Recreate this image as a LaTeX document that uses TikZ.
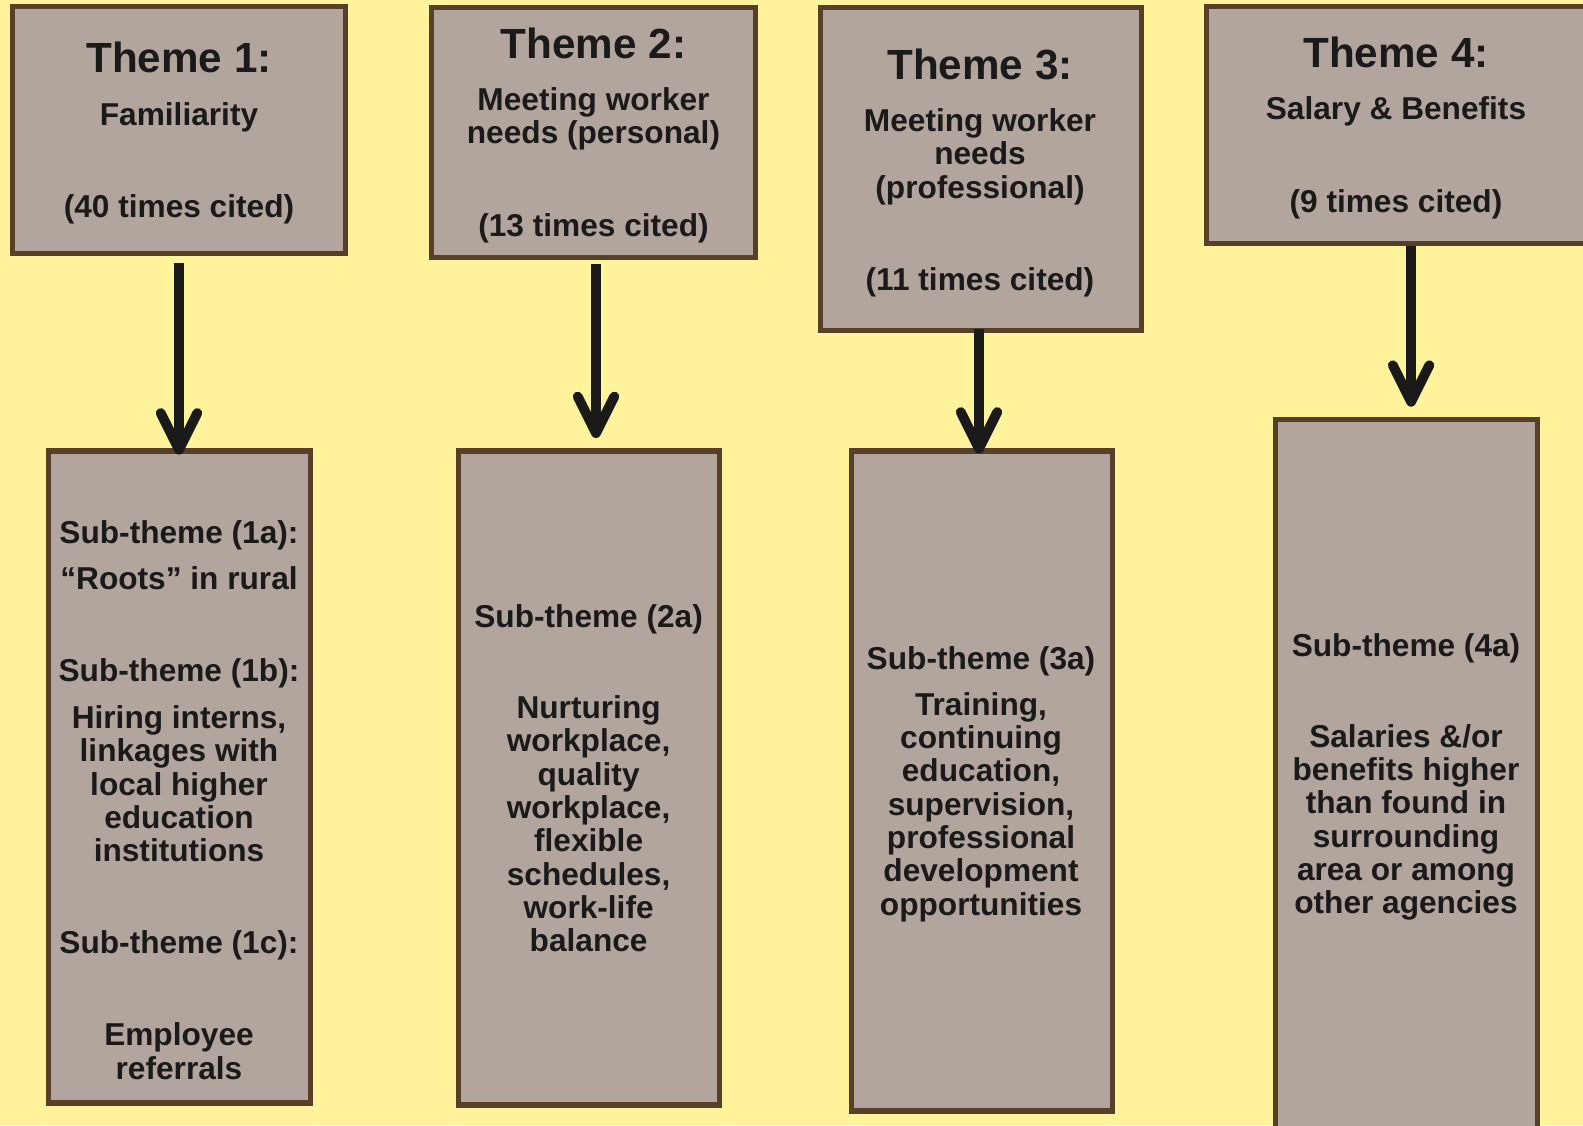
\documentclass[tikz,border=0pt]{standalone}
\usepackage{fontspec}
\setmainfont{Liberation Sans}
\usetikzlibrary{arrows.meta}
\definecolor{bgyellow}{RGB}{255,244,156}
\definecolor{boxfill}{RGB}{178,165,157}
\definecolor{boxline}{RGB}{88,64,40}
\definecolor{inkblack}{RGB}{26,26,26}
\newcommand{\pxu}{0.025cm}
\newcommand{\themetitle}[1]{{\fontsize{30}{32}\selectfont #1}}
\begin{document}
\begin{tikzpicture}[x=0.025cm,y=-0.025cm,
  box/.style={draw=boxline,fill=boxfill,line width=3.6pt,inner sep=0pt},
  txt/.style={anchor=north,align=center,inner sep=0pt,text=inkblack,
    font=\bfseries\fontsize{22.5}{23.7}\selectfont},
  arr/.style={draw=inkblack,line width=7pt,-{Straight Barb[length=26pt,width=26pt,round]}}]
\useasboundingbox (0,0) rectangle (1583,1125);
\clip (0,0) rectangle (1583,1125);
\fill[bgyellow] (0,0) rectangle (1583,1125);
% theme boxes
\node[box,minimum width=333*\pxu,minimum height=247*\pxu] (t1) at (179,130) {};
\node[box,minimum width=324*\pxu,minimum height=250*\pxu] (t2) at (593.5,132.5) {};
\node[box,minimum width=321*\pxu,minimum height=323*\pxu] (t3) at (981,169) {};
\node[box,minimum width=381*\pxu,minimum height=237*\pxu] (t4) at (1397,125) {};
% sub-theme boxes
\node[box,minimum width=262*\pxu,minimum height=652*\pxu] (s1) at (179.5,777) {};
\node[box,minimum width=261*\pxu,minimum height=654*\pxu] (s2) at (589,778) {};
\node[box,minimum width=261*\pxu,minimum height=660*\pxu] (s3) at (982,781) {};
\node[box,minimum width=262*\pxu,minimum height=723*\pxu] (s4) at (1406.5,781) {};
% texts
\node[txt] (t1text) at (179,42) {\themetitle{Theme 1:}\\[13.5pt] Familiarity\\[41.7pt] (40 times cited)};
\node[txt] (t2text) at (593.5,28) {\themetitle{Theme 2:}\\[13pt] Meeting worker\\needs (personal)\\[42.2pt] (13 times cited)};
\node[txt] (t3text) at (980,48.5) {\themetitle{Theme 3:}\\[13.5pt] Meeting worker\\needs\\(professional)\\[42pt] (11 times cited)};
\node[txt] (t4text) at (1396,36.5) {\themetitle{Theme 4:}\\[13.5pt] Salary \& Benefits\\[42pt] (9 times cited)};
\node[txt] (s1text) at (179,520) {Sub-theme (1a):\\[9.5pt] “Roots” in rural\\[41.5pt] Sub-theme (1b):\\[9.7pt] Hiring interns,\\linkages with\\local higher\\education\\institutions\\[41.7pt] Sub-theme (1c):\\[41.7pt] Employee\\referrals};
\node[txt] (s2text) at (588.6,604) {Sub-theme (2a)\\[41.2pt] Nurturing\\workplace,\\quality\\workplace,\\flexible\\schedules,\\work-life\\balance};
\node[txt] (s3text) at (981,646) {Sub-theme (3a)\\[9pt] Training,\\continuing\\education,\\supervision,\\professional\\development\\opportunities};
\node[txt] (s4text) at (1406,633) {Sub-theme (4a)\\[41pt] Salaries \&/or\\benefits higher\\than found in\\surrounding\\area or among\\other agencies};
% arrows
\draw[arr,shorten <=5pt,shorten >=-4.3pt] (t1.south) -- (t1.south |- s1.north);
\draw[arr,shorten <=3pt,shorten >=7.4pt] ([xshift=1.8pt]t2.south) -- ([xshift=1.8pt]t2.south |- s2.north);
\draw[arr,shorten <=-3.2pt,shorten >=-3.6pt] ([xshift=-1.4pt]t3.south) -- ([xshift=-1.4pt]t3.south |- s3.north);
\draw[arr,shorten >=7.3pt] ([xshift=10pt]t4.south) -- ([xshift=10pt]t4.south |- s4.north);
\end{tikzpicture}
\end{document}
